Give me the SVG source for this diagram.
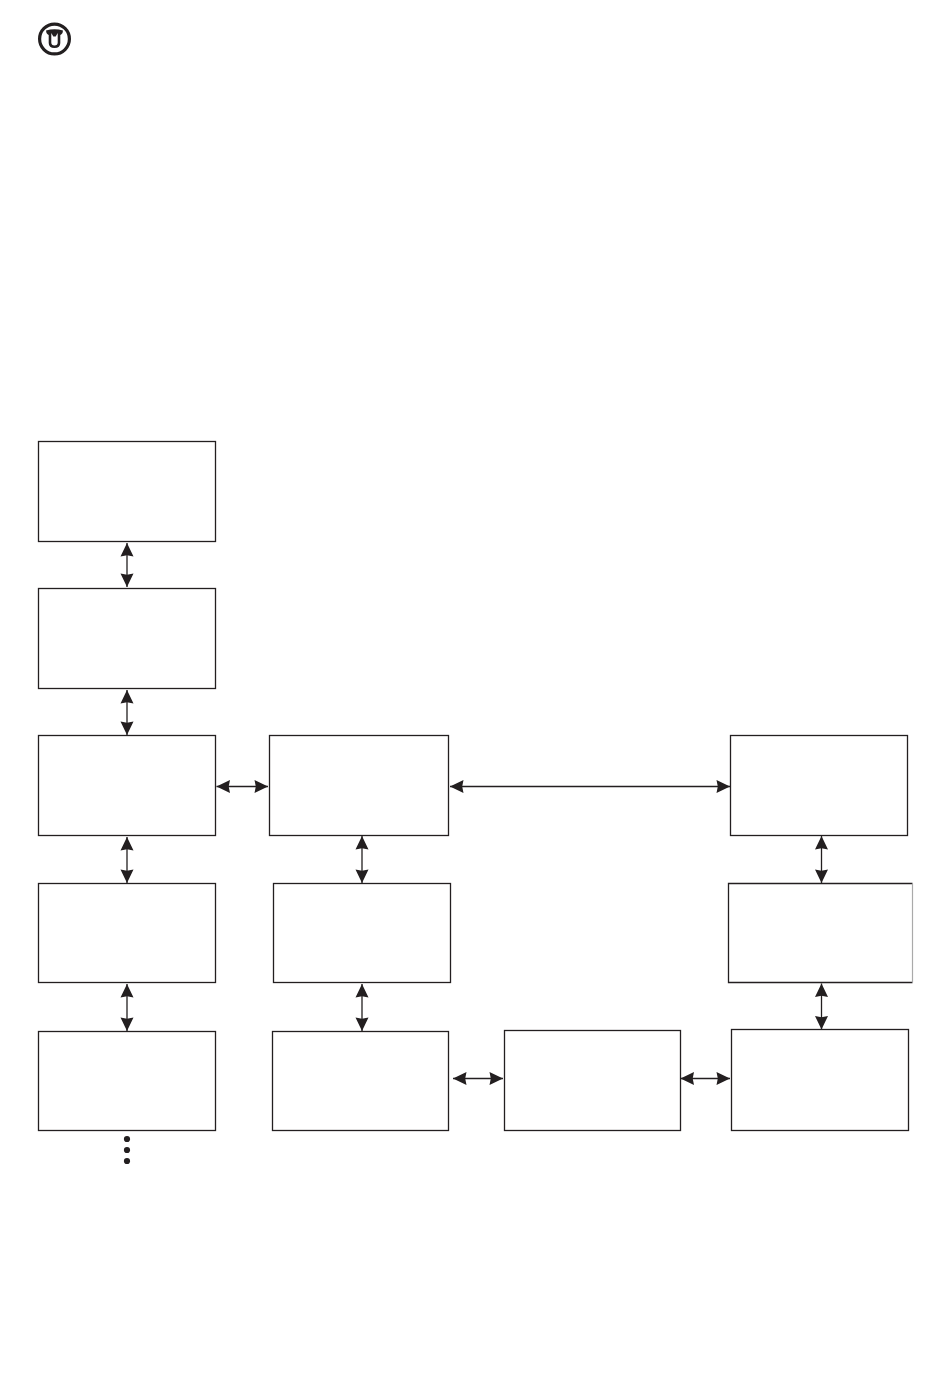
<svg xmlns="http://www.w3.org/2000/svg" width="950" height="1374" viewBox="0 0 950 1374">
<style>
.box{fill:#fff;stroke:#231f20;stroke-width:1.3}
.conn{fill:none;stroke:#231f20;stroke-width:1.3;marker-start:url(#arrow);marker-end:url(#arrow)}
.ink{fill:#231f20}
</style>
<defs>
<marker id="arrow" markerUnits="userSpaceOnUse" markerWidth="18" markerHeight="16" refX="14" refY="8" orient="auto-start-reverse" viewBox="0 0 18 16">
<path d="M14,8 L0.5,1.500 L1.800,8 L0.5,14.500 Z" fill="#231f20"/>
</marker>
</defs>
<rect width="950" height="1374" fill="#fff"/>
<g id="logo">
<circle cx="54.500" cy="39" r="14.900" fill="none" stroke="#231f20" stroke-width="3.200"/>
<path class="ink" d="M46,30.500 Q54.500,28 63,30.500 L62.500,33 Q61.500,34.500 60.300,35 L60.300,43 Q60.300,48 54.500,48 Q48.700,48 48.700,43 L48.700,35 Q47.500,34.500 46.500,33 Z"/>
<path d="M51.300,33 L53.300,36.500 L55.700,36.500 L57.700,33 L57.700,42.500 Q57.700,45.500 54.500,45.500 Q51.300,45.500 51.300,42.500 Z" fill="#fff"/>
</g>
<g id="connectors">
<line class="conn" x1="127" y1="543" x2="127" y2="587"/>
<line class="conn" x1="127" y1="690" x2="127" y2="735"/>
<line class="conn" x1="127" y1="837" x2="127" y2="883"/>
<line class="conn" x1="127" y1="984" x2="127" y2="1031"/>
<line class="conn" x1="216.500" y1="786.500" x2="268" y2="786.500"/>
<line class="conn" x1="450" y1="786.500" x2="730" y2="786.500"/>
<line class="conn" x1="362" y1="836" x2="362" y2="883"/>
<line class="conn" x1="362" y1="984" x2="362" y2="1031"/>
<line class="conn" x1="821.500" y1="836" x2="821.500" y2="883"/>
<line class="conn" x1="821.500" y1="983.500" x2="821.500" y2="1029.500"/>
<line class="conn" x1="453" y1="1078.500" x2="503" y2="1078.500"/>
<line class="conn" x1="680.500" y1="1078.500" x2="730" y2="1078.500"/>
</g>
<g id="node-1"><rect class="box" x="38.500" y="441.500" width="177" height="100"/></g>
<g id="node-2"><rect class="box" x="38.500" y="588.500" width="177" height="100"/></g>
<g id="node-3"><rect class="box" x="38.500" y="735.500" width="177" height="100"/></g>
<g id="node-4"><rect class="box" x="38.500" y="883.500" width="177" height="99"/></g>
<g id="node-5"><rect class="box" x="38.500" y="1031.500" width="177" height="99"/></g>
<g id="node-6"><rect class="box" x="269.500" y="735.500" width="179" height="100"/></g>
<g id="node-7"><rect class="box" x="273.500" y="883.500" width="177" height="99"/></g>
<g id="node-8"><rect class="box" x="272.500" y="1031.500" width="176" height="99"/></g>
<g id="node-9"><rect class="box" x="504.500" y="1030.500" width="176" height="100"/></g>
<g id="node-10"><rect class="box" x="730.500" y="735.500" width="177" height="100"/></g>
<g id="node-11">
<rect x="728.500" y="883.500" width="184" height="99" fill="#fff"/>
<path d="M912.500,883.500 H728.500 V982.500 H912.500" fill="none" stroke="#231f20" stroke-width="1.300"/>
<path d="M912.500,883.500 V982.500" fill="none" stroke="#aaa" stroke-width="1.200"/>
</g>
<g id="node-12"><rect class="box" x="731.500" y="1029.500" width="177" height="101"/></g>
<g id="ellipsis">
<circle class="ink" cx="127" cy="1139" r="3.100"/>
<circle class="ink" cx="127" cy="1150" r="3.100"/>
<circle class="ink" cx="127" cy="1161" r="3.100"/>
</g>
</svg>
